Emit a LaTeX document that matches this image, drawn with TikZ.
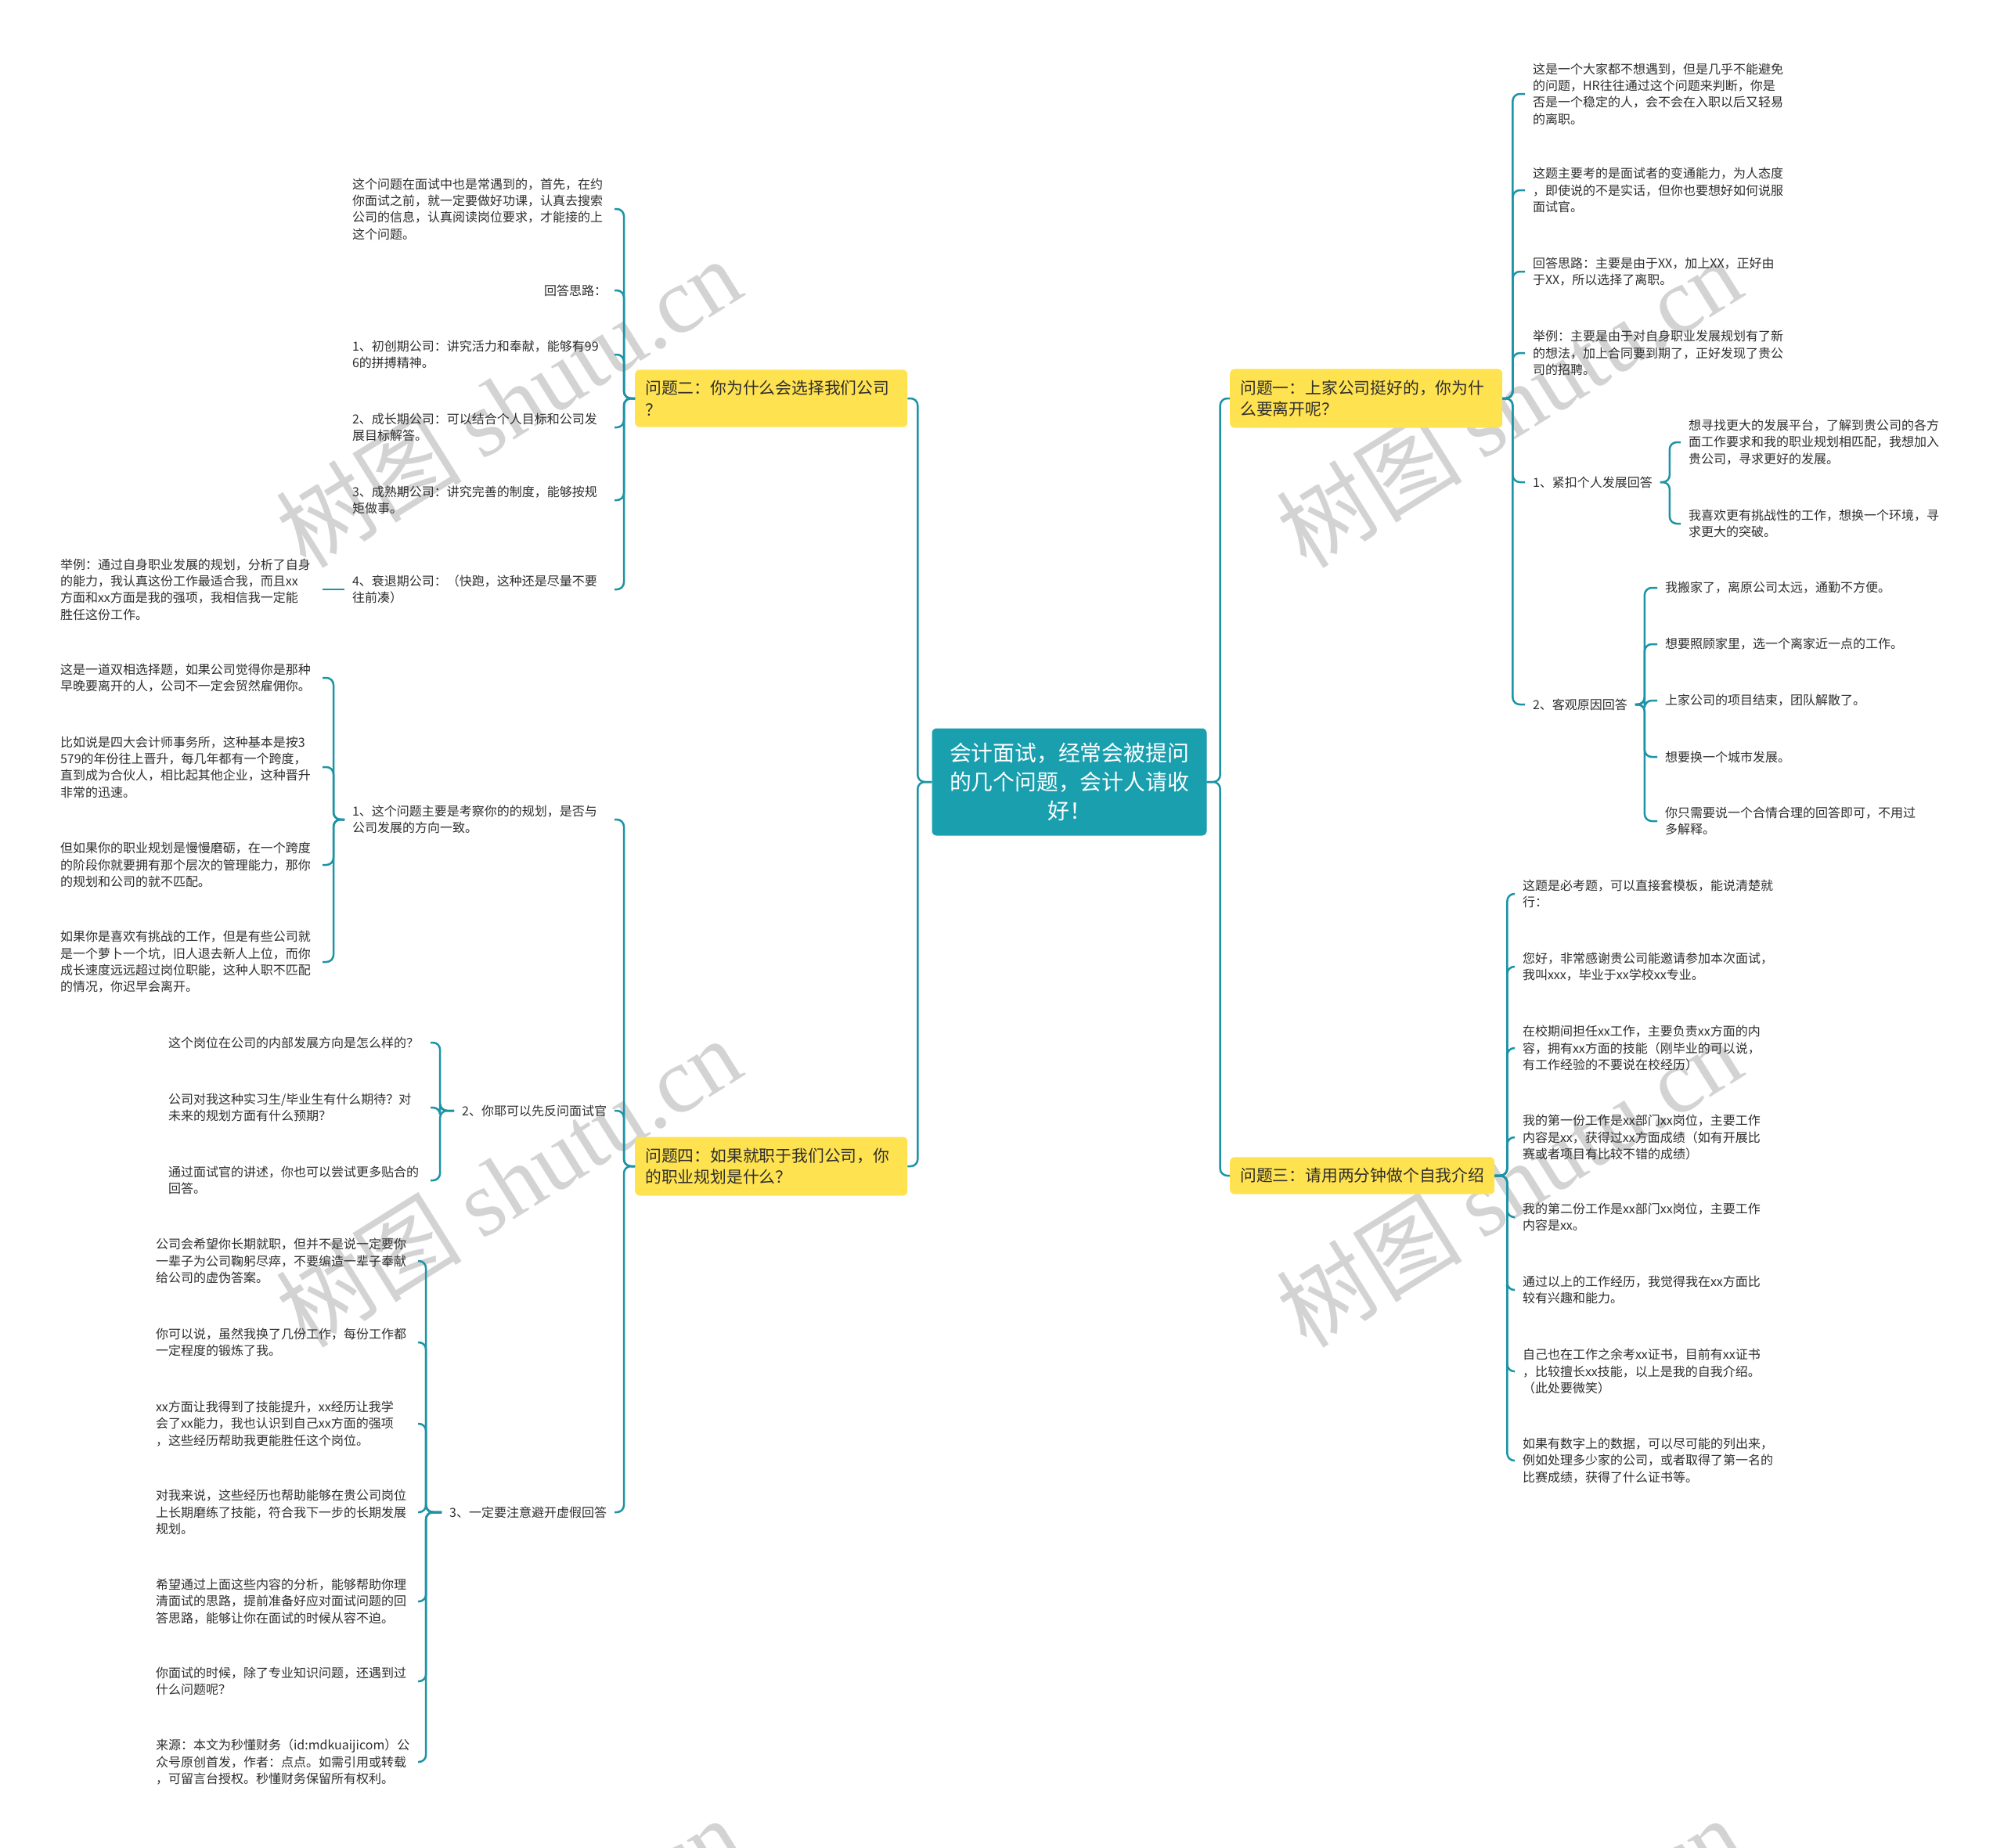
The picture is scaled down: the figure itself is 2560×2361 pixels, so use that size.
\documentclass[tikz,border=0pt]{standalone}
\usepackage{fontspec}
\setmainfont{Noto Sans CJK SC}
\newfontfamily\wmlatin{Liberation Serif}
\usepackage{tikz}
\usetikzlibrary{positioning}

\definecolor{linkc}{HTML}{1C94A6}
\definecolor{rootc}{HTML}{1A9FAF}
\definecolor{qc}{HTML}{FFE250}
\definecolor{txtc}{HTML}{2E2E2E}
\definecolor{wmc}{HTML}{D3D3D3}

\begin{document}
\begin{tikzpicture}[
    x=1pt, y=-1pt,
    node distance=28pt,
    root/.style={fill=rootc, rounded corners=6pt, text=white, align=center,
        font=\fontsize{27.8}{36.7}\selectfont, minimum width=351pt, minimum height=137pt, inner sep=0pt},
    qbox/.style={fill=qc, rounded corners=6pt, text=txtc, align=left, anchor=west,
        font=\fontsize{20.8}{27.8}\selectfont, inner xsep=13pt, inner ysep=14pt},
    qwide/.style={qbox, text width=322pt},
    leaf/.style={text=txtc, align=left, font=\fontsize{16}{21.3}\selectfont,
        inner xsep=0pt, inner ysep=2pt, outer xsep=10pt},
    wrap/.style={leaf, text width=325pt},
    link/.style={draw=linkc, line width=2.5pt, rounded corners=9pt},
    watermark/.style={text=wmc, rotate=32, font=\fontsize{119}{119}\selectfont}
]
\useasboundingbox (0,0) rectangle (2560,2361);
\fill[white] (0,0) rectangle (2560,2361);

% watermark
\begin{scope}
\clip (0,0) rectangle (2560,2361);
\foreach \wx/\wy [count=\i] in {649/514, 1927/514, 649/1510, 1927/1510, 649/2506, 1927/2506}
    \node[watermark] (wm\i) at (\wx,\wy) {树图 {\wmlatin shutu.cn}};
\end{scope}

% centre and questions
\node[root] (root) at (1366,999) {会计面试，经常会被提问\\的几个问题，会计人请收\\好！};
\node[qwide] (q1) at (1571,509) {问题一：上家公司挺好的，你为什\\么要离开呢？};
\node[qbox] (q3) at (1571,1502) {问题三：请用两分钟做个自我介绍};
\node[qwide] (q2) at (811,509) {问题二：你为什么会选择我们公司\\？};
\node[qwide] (q4) at (811,1490) {问题四：如果就职于我们公司，你\\的职业规划是什么？};

% question one
\node[wrap, anchor=west] (r1) at (1948,120) {这是一个大家都不想遇到，但是几乎不能避免\\的问题，HR往往通过这个问题来判断，你是\\否是一个稳定的人，会不会在入职以后又轻易\\的离职。};
\node[wrap, anchor=west] (r2) at (1948,243) {这题主要考的是面试者的变通能力，为人态度\\，即使说的不是实话，但你也要想好如何说服\\面试官。};
\node[wrap, anchor=west] (r3) at (1948,347) {回答思路：主要是由于XX，加上XX，正好由\\于XX，所以选择了离职。};
\node[wrap, anchor=west] (r4) at (1948,451) {举例：主要是由于对自身职业发展规划有了新\\的想法，加上合同要到期了，正好发现了贵公\\司的招聘。};
\node[leaf, anchor=west] (r5) at (1948,616) {1、紧扣个人发展回答};
\node[leaf, anchor=west] (r6) at (1948,900) {2、客观原因回答};
\node[wrap, anchor=west] (r5a) at (2147,565) {想寻找更大的发展平台，了解到贵公司的各方\\面工作要求和我的职业规划相匹配，我想加入\\贵公司，寻求更好的发展。};
\node[wrap, anchor=west] (r5b) at (2147,669) {我喜欢更有挑战性的工作，想换一个环境，寻\\求更大的突破。};
\node[leaf, anchor=west] (r6a) at (2117,751) {我搬家了，离原公司太远，通勤不方便。};
\node[leaf, anchor=west] (r6b) at (2117,823) {想要照顾家里，选一个离家近一点的工作。};
\node[leaf, anchor=west] (r6c) at (2117,895) {上家公司的项目结束，团队解散了。};
\node[leaf, anchor=west] (r6d) at (2117,967) {想要换一个城市发展。};
\node[wrap, anchor=west] (r6e) at (2117,1049) {你只需要说一个合情合理的回答即可，不用过\\多解释。};

% question three
\node[wrap, anchor=west] (s1) at (1935,1142) {这题是必考题，可以直接套模板，能说清楚就\\行：};
\node[wrap, anchor=west] (s2) at (1935,1235) {您好，非常感谢贵公司能邀请参加本次面试，\\我叫xxx，毕业于xx学校xx专业。};
\node[wrap, anchor=west] (s3) at (1935,1339) {在校期间担任xx工作，主要负责xx方面的内\\容，拥有xx方面的技能（刚毕业的可以说，\\有工作经验的不要说在校经历）};
\node[wrap, anchor=west] (s4) at (1935,1453) {我的第一份工作是xx部门xx岗位，主要工作\\内容是xx，获得过xx方面成绩（如有开展比\\赛或者项目有比较不错的成绩）};
\node[wrap, anchor=west] (s5) at (1935,1555) {我的第二份工作是xx部门xx岗位，主要工作\\内容是xx。};
\node[wrap, anchor=west] (s6) at (1935,1648) {通过以上的工作经历，我觉得我在xx方面比\\较有兴趣和能力。};
\node[wrap, anchor=west] (s7) at (1935,1752) {自己也在工作之余考xx证书，目前有xx证书\\，比较擅长xx技能，以上是我的自我介绍。\\（此处要微笑）};
\node[wrap, anchor=west] (s8) at (1935,1866) {如果有数字上的数据，可以尽可能的列出来，\\例如处理多少家的公司，或者取得了第一名的\\比赛成绩，获得了什么证书等。};

% question two
\node[wrap, anchor=east] (l1) at (785,267) {这个问题在面试中也是常遇到的，首先，在约\\你面试之前，就一定要做好功课，认真去搜索\\公司的信息，认真阅读岗位要求，才能接的上\\这个问题。};
\node[leaf, anchor=east] (l2) at (785,371) {回答思路：};
\node[wrap, anchor=east] (l3) at (785,453) {1、初创期公司：讲究活力和奉献，能够有99\\6的拼搏精神。};
\node[wrap, anchor=east] (l4) at (785,546) {2、成长期公司：可以结合个人目标和公司发\\展目标解答。};
\node[wrap, anchor=east] (l5) at (785,639) {3、成熟期公司：讲究完善的制度，能够按规\\矩做事。};
\node[wrap, anchor=east] (l6) at (785,753) {4、衰退期公司：（快跑，这种还是尽量不要\\往前凑）};
\node[wrap, left=of l6] (l6a) {举例：通过自身职业发展的规划，分析了自身\\的能力，我认真这份工作最适合我，而且xx\\方面和xx方面是我的强项，我相信我一定能\\胜任这份工作。};

% question four
\node[wrap, anchor=east] (m1) at (785,1047) {1、这个问题主要是考察你的的规划，是否与\\公司发展的方向一致。};
\node[leaf, anchor=east] (m2) at (785,1419) {2、你耶可以先反问面试官};
\node[leaf, anchor=east] (m3) at (785,1932) {3、一定要注意避开虚假回答};
\node[wrap, anchor=east] (m1a) at (412,866) {这是一道双相选择题，如果公司觉得你是那种\\早晚要离开的人，公司不一定会贸然雇佣你。};
\node[wrap, anchor=east] (m1b) at (412,980) {比如说是四大会计师事务所，这种基本是按3\\579的年份往上晋升，每几年都有一个跨度，\\直到成为合伙人，相比起其他企业，这种晋升\\非常的迅速。};
\node[wrap, anchor=east] (m1c) at (412,1105) {但如果你的职业规划是慢慢磨砺，在一个跨度\\的阶段你就要拥有那个层次的管理能力，那你\\的规划和公司的就不匹配。};
\node[wrap, anchor=east] (m1d) at (412,1229) {如果你是喜欢有挑战的工作，但是有些公司就\\是一个萝卜一个坑，旧人退去新人上位，而你\\成长速度远远超过岗位职能，这种人职不匹配\\的情况，你迟早会离开。};
\node[wrap, anchor=east] (m2a) at (550,1332) {这个岗位在公司的内部发展方向是怎么样的？};
\node[wrap, anchor=east] (m2b) at (550,1415) {公司对我这种实习生/毕业生有什么期待？对\\未来的规划方面有什么预期？};
\node[wrap, anchor=east] (m2c) at (550,1508) {通过面试官的讲述，你也可以尝试更多贴合的\\回答。};
\node[wrap, anchor=east] (m3a) at (534,1611) {公司会希望你长期就职，但并不是说一定要你\\一辈子为公司鞠躬尽瘁，不要编造一辈子奉献\\给公司的虚伪答案。};
\node[wrap, anchor=east] (m3b) at (534,1715) {你可以说，虽然我换了几份工作，每份工作都\\一定程度的锻炼了我。};
\node[wrap, anchor=east] (m3c) at (534,1819) {xx方面让我得到了技能提升，xx经历让我学\\会了xx能力，我也认识到自己xx方面的强项\\，这些经历帮助我更能胜任这个岗位。};
\node[wrap, anchor=east] (m3d) at (534,1932) {对我来说，这些经历也帮助能够在贵公司岗位\\上长期磨练了技能，符合我下一步的长期发展\\规划。};
\node[wrap, anchor=east] (m3e) at (534,2046) {希望通过上面这些内容的分析，能够帮助你理\\清面试的思路，提前准备好应对面试问题的回\\答思路，能够让你在面试的时候从容不迫。};
\node[wrap, anchor=east] (m3f) at (534,2148) {你面试的时候，除了专业知识问题，还遇到过\\什么问题呢？};
\node[wrap, anchor=east] (m3g) at (534,2251) {来源：本文为秒懂财务（id:mdkuaijicom）公\\众号原创首发，作者：点点。如需引用或转载\\，可留言台授权。秒懂财务保留所有权利。};

% connectors
\foreach \q in {q1,q3} \draw[link] (root.east) -- ++(17,0) |- (\q.west);
\foreach \q in {q2,q4} \draw[link] (root.west) -- ++(-18,0) |- (\q.east);
\foreach \c in {r1,r2,r3,r4,r5,r6} \draw[link] (q1.east) -- ++(13,0) |- (\c.west);
\foreach \c in {r5a,r5b} \draw[link] (r5.east) -- ++(12,0) |- (\c.west);
\foreach \c in {r6a,r6b,r6c,r6d,r6e} \draw[link] (r6.east) -- ++(12,0) |- (\c.west);
\foreach \c in {s1,s2,s3,s4,s5,s6,s7,s8} \draw[link] (q3.east) -- ++(16,0) |- (\c.west);
\foreach \c in {l1,l2,l3,l4,l5,l6} \draw[link] (q2.west) -- ++(-14,0) |- (\c.east);
\draw[link] (l6.west) -- (l6a.east);
\foreach \c in {m1,m2,m3} \draw[link] (q4.west) -- ++(-14,0) |- (\c.east);
\foreach \c in {m1a,m1b,m1c,m1d} \draw[link] (m1.west) -- ++(-14,0) |- (\c.east);
\foreach \c in {m2a,m2b,m2c} \draw[link] (m2.west) -- ++(-18,0) |- (\c.east);
\foreach \c in {m3a,m3b,m3c,m3d,m3e,m3f,m3g} \draw[link] (m3.west) -- ++(-20,0) |- (\c.east);
\end{tikzpicture}
\end{document}
